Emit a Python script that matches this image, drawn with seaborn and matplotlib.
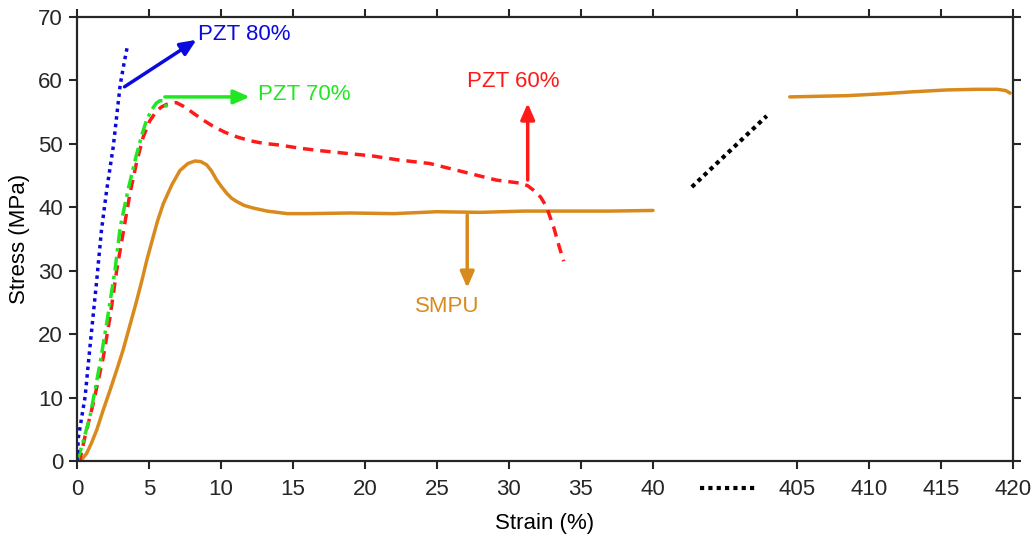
import numpy as np
import matplotlib
matplotlib.use("Agg")
import matplotlib.pyplot as plt
import seaborn as sns

# strain (%) / stress (MPa)
smpu_x = [0.1, 0.35, 0.67, 1.0, 1.37, 1.8, 2.3, 2.75, 3.2, 3.65, 4.1, 4.5, 4.84, 5.2, 5.6, 6.0, 6.6, 7.15, 7.7, 8.2, 8.6, 9.0, 9.35, 9.7, 10.05, 10.4, 10.75, 11.1, 11.6, 12.2, 13.2, 14.6, 16.0, 19.0, 22.0, 25.0, 28.0, 31.0, 34.0, 37.0, 40.0]
smpu_y = [0.0, 0.3, 1.2, 2.8, 4.9, 7.9, 11.2, 14.3, 17.5, 21.2, 24.9, 28.4, 31.6, 34.6, 37.9, 40.6, 43.6, 45.8, 46.9, 47.3, 47.2, 46.7, 45.7, 44.3, 43.2, 42.2, 41.4, 40.9, 40.3, 39.9, 39.4, 39.0, 39.0, 39.1, 39.0, 39.3, 39.2, 39.4, 39.4, 39.4, 39.5]
smpu2_x = [404.5, 406.5, 408.5, 411.0, 413.0, 415.4, 417.5, 418.9, 419.5, 419.8]
smpu2_y = [57.4, 57.5, 57.6, 57.9, 58.2, 58.5, 58.6, 58.6, 58.4, 58.0]

pzt80_x = [0.0, 0.1, 0.56, 0.9, 1.37, 1.7, 2.06, 2.52, 3.0, 3.25, 3.5]
pzt80_y = [0.0, 3.8, 10.1, 18.0, 28.5, 36.4, 42.7, 49.6, 59.3, 62.5, 65.4]

pzt70_x = [0.0, 0.33, 0.9, 1.6, 2.06, 2.64, 3.0, 3.55, 4.1, 4.5, 4.84, 5.2, 5.5, 5.75, 6.0, 6.15, 6.2]
pzt70_y = [0.0, 2.3, 7.0, 15.4, 21.7, 30.1, 36.9, 42.8, 48.0, 51.4, 53.8, 55.4, 56.4, 56.8, 56.8, 56.4, 55.7]

pzt60_x = [0.0, 0.2, 0.55, 1.13, 1.83, 2.3, 2.76, 3.2, 3.68, 4.15, 4.6, 5.05, 5.5, 5.85, 6.2, 6.55, 6.9, 7.5, 8.1, 8.8, 9.5, 10.3, 11.1, 12.0, 12.9, 14.1, 15.5, 17.0, 18.7, 20.5, 22.2, 24.5, 26.8, 29.1, 30.8, 31.3, 31.7, 32.2, 32.6, 33.1, 33.5, 33.8]
pzt60_y = [0.0, 0.2, 3.8, 9.1, 16.4, 22.8, 30.1, 35.9, 42.2, 47.2, 51.1, 53.6, 55.1, 55.8, 56.2, 56.45, 56.5, 55.8, 54.8, 53.7, 52.7, 51.8, 51.1, 50.5, 50.1, 49.8, 49.3, 48.9, 48.5, 48.1, 47.5, 46.9, 45.6, 44.3, 43.8, 43.4, 42.7, 41.6, 40.1, 36.9, 33.7, 31.5]

break_x = [42.7, 402.9]
break_y = [43.2, 54.4]

ticks_a = [0, 5, 10, 15, 20, 25, 30, 35, 40]
ticks_b = [405, 410, 415, 420]

blue = "#0a0adf"
green = "#22e622"
red = "#ff1a1a"
orange = "#d98a1c"


def fwd(x):
    x = np.asarray(x, float)
    return np.where(x <= 45, x, np.where(x >= 400, x - 355, 45.0))


def inv(y):
    y = np.asarray(y, float)
    return np.where(y <= 45, y, y + 355)


sns.set_theme(style="ticks")
plt.rcParams['font.family'] = ['Liberation Sans', 'DejaVu Sans']

fig = plt.figure(figsize=(10.35, 5.36), dpi=100)
ax = fig.add_axes([0.0744, 0.1399, 0.9043, 0.8284])
ax.set_xscale('function', functions=(fwd, inv))

sns.lineplot(x=smpu_x, y=smpu_y, ax=ax, color=orange, lw=2.5, sort=False, estimator=None)
sns.lineplot(x=smpu2_x, y=smpu2_y, ax=ax, color=orange, lw=2.5, sort=False, estimator=None)
sns.lineplot(x=pzt60_x, y=pzt60_y, ax=ax, color=red, lw=2.5, sort=False, estimator=None, linestyle=(0, (3, 2)))
sns.lineplot(x=pzt70_x, y=pzt70_y, ax=ax, color=green, lw=2.5, sort=False, estimator=None, linestyle=(0, (4, 1.5, 1, 1.5)))
sns.lineplot(x=pzt80_x, y=pzt80_y, ax=ax, color=blue, lw=2.5, sort=False, estimator=None, linestyle=(0, (1, 1.2)))
sns.lineplot(x=break_x, y=break_y, ax=ax, color="black", lw=3, sort=False, estimator=None, linestyle=(0, (1, 1)))

ax.set_xlim(0, 420)
ax.set_ylim(0, 70)
ax.set_xticks(ticks_a + ticks_b)
ax.set_xticklabels([str(t) for t in ticks_a + ticks_b])
ax.set_yticks(range(0, 71, 10))
ax.minorticks_off()

for s in ax.spines.values():
    s.set_visible(True)
    s.set_color("#262626")
    s.set_linewidth(1.6)
ax.tick_params(direction='out', length=6, width=1.5, color="#262626",
               labelsize=16, labelcolor="#262626", top=True, right=True)
ax.tick_params(axis='x', pad=7)
ax.tick_params(axis='y', pad=4)

ax.set_xlabel("Strain (%)", fontsize=16, color="black", labelpad=9)
ax.set_ylabel("Stress (MPa)", fontsize=16, color="black", labelpad=6)

# axis break mark under the x axis (display 43.3 .. 47.1)
ax.plot([43.3, 402.1], [-0.06, -0.06], transform=ax.get_xaxis_transform(), clip_on=False,
        color="black", lw=3, linestyle=(0, (1, 1)))

aprops = dict(arrowstyle="-|>,head_length=0.8,head_width=0.35", lw=2.5, shrinkA=0, shrinkB=0)
ax.annotate("", xy=(8.3, 66.4), xytext=(3.3, 59.0), arrowprops=dict(color=blue, **aprops))
ax.text(8.4, 67.3, "PZT 80%", color=blue, fontsize=16, va="center", ha="left")

ax.annotate("", xy=(12.0, 57.4), xytext=(6.1, 57.4), arrowprops=dict(color=green, **aprops))
ax.text(12.6, 57.8, "PZT 70%", color=green, fontsize=16, va="center", ha="left")

ax.annotate("", xy=(31.3, 56.4), xytext=(31.3, 44.3), arrowprops=dict(color=red, **aprops))
ax.text(30.3, 59.8, "PZT 60%", color=red, fontsize=16, va="center", ha="center")

ax.annotate("", xy=(27.1, 27.3), xytext=(27.1, 38.8), arrowprops=dict(color=orange, **aprops))
ax.text(25.7, 24.3, "SMPU", color=orange, fontsize=16, va="center", ha="center")

fig.savefig("out.png", dpi=100)
